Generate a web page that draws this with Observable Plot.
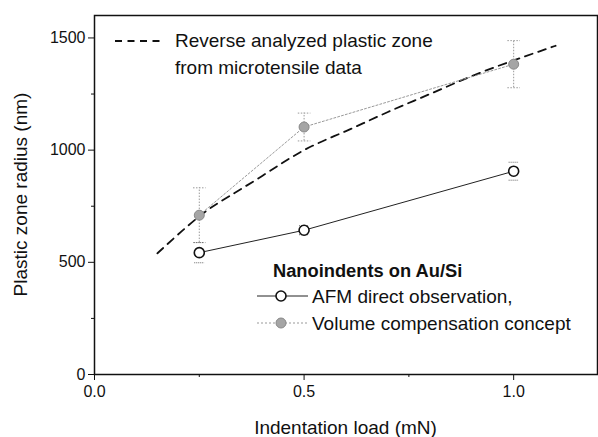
<!DOCTYPE html>
<html><head><meta charset="utf-8">
<script src="https://cdn.jsdelivr.net/npm/d3@7"></script>
<script src="https://cdn.jsdelivr.net/npm/@observablehq/plot@0.6"></script>
<style>body{margin:0;background:#fff} svg{font-family:"Liberation Sans",Arial,sans-serif}</style>
</head><body><div id="chart"></div><script>
// Data
const loads = [0.25, 0.5, 1.0];
const afmRadius = [543, 643, 906];
const afmError = [45, 20, 40];
const volRadius = [710, 1103, 1383];
const volError = [122, 62, 105];
const curveLoad = [0.15, 0.2, 0.25, 0.3, 0.4, 0.5, 0.6, 0.7, 0.8, 0.9, 1.0, 1.1];
const curveRadius = [540, 625, 705, 770, 885, 1000, 1085, 1170, 1250, 1330, 1400, 1465];
const xTicks = [0, 0.5, 1.0];
const xMinor = [0.25, 0.75];
const yTicks = [0, 500, 1000, 1500];
const yMinor = [250, 750, 1250];
const legendTop = ["Reverse analyzed plastic zone", "from microtensile data"];
const legendTitle = "Nanoindents on Au/Si";
const legendRows = ["AFM direct observation,", "Volume compensation concept"];

const afm = loads.map((x, i) => ({x, y: afmRadius[i], e: afmError[i]}));
const vol = loads.map((x, i) => ({x, y: volRadius[i], e: volError[i]}));
const curve = curveLoad.map((x, i) => ({x, y: curveRadius[i]}));
const cap = 0.015;

const plot = Plot.plot({
  width: 598, height: 437,
  marginLeft: 94, marginRight: 1, marginTop: 15, marginBottom: 63,
  style: {fontSize: "16px", fontFamily: "'Liberation Sans', Arial, sans-serif", color: "#111", background: "#fff"},
  x: {domain: [0, 1.2]},
  y: {domain: [0, 1600]},
  marks: [
    Plot.axisX({ticks: xTicks, tickFormat: d3.format(".1f"), tickSize: 6, tickPadding: 5, label: null}),
    Plot.axisX({ticks: xMinor, tickFormat: () => "", tickSize: 3, label: null}),
    Plot.axisY({ticks: yTicks, tickFormat: d3.format("d"), tickSize: 6, tickPadding: 3, label: null}),
    Plot.axisY({ticks: yMinor, tickFormat: () => "", tickSize: 3, label: null}),
    Plot.line(curve, {x: "x", y: "y", stroke: "#111", strokeWidth: 1.8, strokeDasharray: "8,6", curve: "natural"}),
    Plot.line(vol, {x: "x", y: "y", stroke: "#999", strokeWidth: 1, strokeDasharray: "2,2"}),
    Plot.line(afm, {x: "x", y: "y", stroke: "#222", strokeWidth: 1}),
    Plot.ruleX(vol, {x: "x", y1: d => d.y - d.e, y2: d => d.y + d.e, stroke: "#999", strokeDasharray: "1.5,1.5"}),
    Plot.link(vol, {x1: d => d.x - cap, x2: d => d.x + cap, y1: d => d.y + d.e, y2: d => d.y + d.e, stroke: "#999", strokeDasharray: "1.5,1.5"}),
    Plot.link(vol, {x1: d => d.x - cap, x2: d => d.x + cap, y1: d => d.y - d.e, y2: d => d.y - d.e, stroke: "#999", strokeDasharray: "1.5,1.5"}),
    Plot.link(afm, {x1: d => d.x - cap * 0.8, x2: d => d.x + cap * 0.8, y1: d => d.y + d.e, y2: d => d.y + d.e, stroke: "#666", strokeDasharray: "1,1"}),
    Plot.link(afm, {x1: d => d.x - cap * 0.8, x2: d => d.x + cap * 0.8, y1: d => d.y - d.e, y2: d => d.y - d.e, stroke: "#666", strokeDasharray: "1,1"}),
    Plot.dot(vol, {x: "x", y: "y", r: 5, fill: "#a5a5a5", stroke: "#888", strokeWidth: 1}),
    Plot.dot(afm, {x: "x", y: "y", r: 5, fill: "white", stroke: "#111", strokeWidth: 1.6}),
    Plot.frame({stroke: "#111", strokeWidth: 1.5})
  ]
});
document.getElementById("chart").appendChild(plot);

// Legends and axis labels
const svg = d3.select(plot);
const g = svg.append("g").attr("font-family", "'Liberation Sans', Arial, sans-serif").attr("fill", "#111").attr("text-anchor", "start");
g.append("line").attr("x1", 115).attr("x2", 164).attr("y1", 41).attr("y2", 41)
  .attr("stroke", "#111").attr("stroke-width", 1.8).attr("stroke-dasharray", "7,5.5");
g.append("text").attr("x", 175).attr("y", 46.5).attr("font-size", 19).text(legendTop[0]);
g.append("text").attr("x", 175).attr("y", 73.5).attr("font-size", 19).text(legendTop[1]);
g.append("text").attr("x", 273).attr("y", 276.5).attr("font-size", 18.3).attr("font-weight", "bold").text(legendTitle);
// row 1
g.append("line").attr("x1", 257).attr("x2", 308).attr("y1", 296).attr("y2", 296).attr("stroke", "#222").attr("stroke-width", 1);
g.append("circle").attr("cx", 281).attr("cy", 296).attr("r", 5).attr("fill", "white").attr("stroke", "#111").attr("stroke-width", 1.6);
g.append("text").attr("x", 312).attr("y", 302.5).attr("font-size", 19).text(legendRows[0]);
// row 2
g.append("line").attr("x1", 257).attr("x2", 308).attr("y1", 323).attr("y2", 323).attr("stroke", "#999").attr("stroke-width", 1).attr("stroke-dasharray", "2,2");
g.append("circle").attr("cx", 281).attr("cy", 323).attr("r", 5).attr("fill", "#a5a5a5").attr("stroke", "#888");
g.append("text").attr("x", 312).attr("y", 329.5).attr("font-size", 19).text(legendRows[1]);
// axis labels
g.append("text").attr("x", 345.5).attr("y", 434).attr("text-anchor", "middle").attr("font-size", 19).text("Indentation load (mN)");
g.append("text").attr("transform", "translate(27,194.5) rotate(-90)").attr("text-anchor", "middle").attr("font-size", 19).text("Plastic zone radius (nm)");
</script></body></html>
